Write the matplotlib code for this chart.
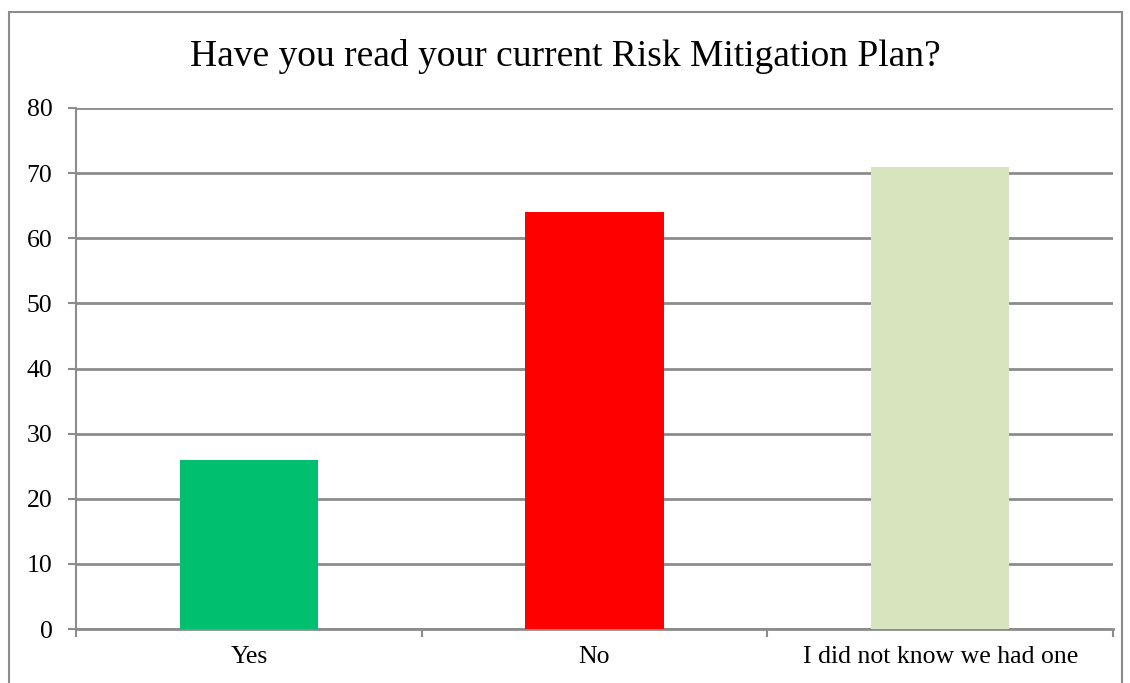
import matplotlib.pyplot as plt
from matplotlib.patches import Rectangle

categories = ["Yes", "No", "I did not know we had one"]
values = [26, 64, 71]
colors = ["#00BF6F", "#FF0000", "#D7E4BD"]
yticks = [0, 10, 20, 30, 40, 50, 60, 70, 80]


def main():
    plt.rcParams["font.family"] = ["Liberation Serif", "DejaVu Serif"]
    fig = plt.figure(figsize=(11.3, 6.83), dpi=100)
    ax = fig.add_axes([76 / 1130, 1 - 629 / 683, 1037 / 1130, 521 / 683])

    grey = "#8C8C8C"
    x = list(range(len(categories)))
    ax.bar(x, values, width=0.4, color=colors, zorder=3)

    ax.set_xlim(-0.5, len(categories) - 0.5)
    ax.set_ylim(0, 80)
    ax.set_yticks(yticks)
    ax.yaxis.grid(True, color=grey, linewidth=2, zorder=0)
    ax.set_axisbelow(True)

    ax.set_xticks(x)
    ax.set_xticklabels(categories)
    ax.set_xticks([i - 0.5 for i in range(len(categories) + 1)], minor=True)
    ax.tick_params(axis="x", which="major", length=0, pad=12, labelsize=18.5)
    ax.tick_params(axis="x", which="minor", length=5.5, width=1.5, color=grey)
    ax.tick_params(axis="y", length=5.5, width=1.5, color=grey,
                   labelsize=18.5, pad=11.5)

    for side in ["top", "right"]:
        ax.spines[side].set_visible(False)
    ax.spines["left"].set_color(grey)
    ax.spines["left"].set_linewidth(1.5)
    ax.spines["bottom"].set_color(grey)
    ax.spines["bottom"].set_linewidth(2)

    fig.text(0.5, 1 - 66 / 683, "Have you read your current Risk Mitigation Plan?",
             ha="center", va="baseline", fontsize=27)

    # outer chart border
    fig.patches.append(Rectangle((9 / 1130, -0.1), (1122 - 9) / 1130,
                                 1.1 - 12 / 683, transform=fig.transFigure,
                                 fill=False, edgecolor=grey, linewidth=1.5))

    fig.savefig("out.png", dpi=100)


if __name__ == "__main__":
    main()
